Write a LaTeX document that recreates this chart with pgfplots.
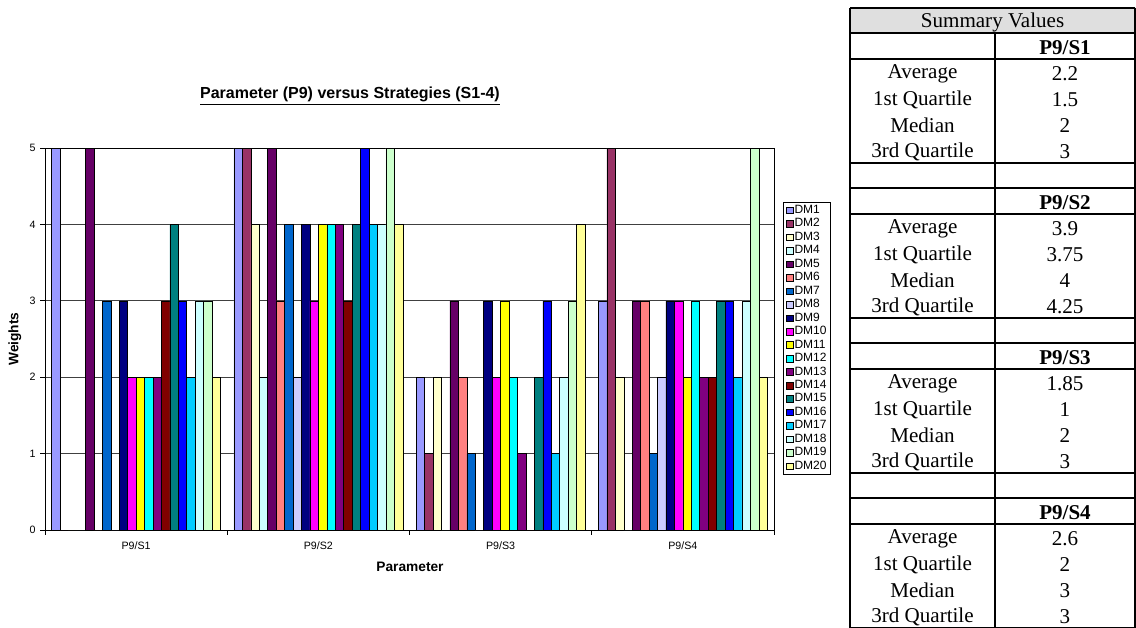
\documentclass[border=0pt]{standalone}
\usepackage{pgfplots}
\pgfplotsset{compat=1.18}
\usepackage{pgfplotstable}
\usepackage{fontspec}
\setmainfont{Liberation Sans}
\newfontfamily\tnr{Liberation Serif}

% Excel default series palette
\definecolor{dm1}{HTML}{9999FF}
\definecolor{dm2}{HTML}{993366}
\definecolor{dm3}{HTML}{FFFFCC}
\definecolor{dm4}{HTML}{CCFFFF}
\definecolor{dm5}{HTML}{660066}
\definecolor{dm6}{HTML}{FF8080}
\definecolor{dm7}{HTML}{0066CC}
\definecolor{dm8}{HTML}{CCCCFF}
\definecolor{dm9}{HTML}{000080}
\definecolor{dm10}{HTML}{FF00FF}
\definecolor{dm11}{HTML}{FFFF00}
\definecolor{dm12}{HTML}{00FFFF}
\definecolor{dm13}{HTML}{800080}
\definecolor{dm14}{HTML}{800000}
\definecolor{dm15}{HTML}{008080}
\definecolor{dm16}{HTML}{0000FF}
\definecolor{dm17}{HTML}{00CCFF}
\definecolor{dm18}{HTML}{CCFFFF}
\definecolor{dm19}{HTML}{CCFFCC}
\definecolor{dm20}{HTML}{FFFF99}

% weights per strategy (rows) and decision maker (columns)
\pgfplotstableread{
x DM1 DM2 DM3 DM4 DM5 DM6 DM7 DM8 DM9 DM10 DM11 DM12 DM13 DM14 DM15 DM16 DM17 DM18 DM19 DM20
1 5 0 0 0 5 0 3 0 3 2 2 2 2 3 4 3 2 3 3 2
2 5 5 4 2 5 3 4 2 4 3 4 4 4 3 4 5 4 4 5 4
3 2 1 2 0 3 2 1 0 3 2 3 2 1 0 2 3 1 2 3 4
4 3 5 2 0 3 3 1 2 3 3 2 3 2 2 3 3 2 3 5 2
}\weights

\begin{document}
\begin{tikzpicture}
\useasboundingbox (0,0) rectangle (852pt,-471pt);
\begin{axis}[
	at={(33.75pt,-397.5pt)}, anchor=south west,
	scale only axis,
	width=546.75pt, height=286.5pt,
	ybar=0pt, bar width=6.33pt,
	legend image code/.code={\draw[#1, draw=black, line width=0.4pt] (0pt,-2.5pt) rectangle (5pt,2.5pt);},
	xmin=0.5, xmax=4.5,
	ymin=0, ymax=5,
	xtick={0.5,1.5,2.5,3.5,4.5}, xticklabels={,,,,},
	extra x ticks={1,2,3,4},
	extra x tick labels={P9/S1,P9/S2,P9/S3,P9/S4},
	extra x tick style={major tick length=0pt, grid=none},
	ytick={0,1,2,3,4,5},
	tick pos=left, tick align=outside,
	major tick length=3.5pt,
	ymajorgrids,
	major grid style={black!75, line width=0.6pt},
	axis line style={black, line width=0.6pt},
	tick style={black, line width=0.6pt},
	/pgf/number format/assume math mode=true,
	tick label style={font=\fontsize{8}{9.6}\selectfont},
	xticklabel style={anchor=center, yshift=-12pt},
	title={\underline{Parameter (P9) versus Strategies (S1-4)}},
	title style={at={(0.4184,1.1152)}, anchor=center, font=\fontsize{12}{14}\selectfont\bfseries},
	xlabel={Parameter},
	xlabel style={at={(0.5007,-0.0969)}, anchor=center, font=\fontsize{10.3}{12}\selectfont\bfseries},
	ylabel={Weights},
	ylabel style={at={(-0.0412,0.5)}, anchor=center, font=\fontsize{10.3}{12}\selectfont\bfseries},
	legend style={at={(1.0123,0.8586)}, anchor=north west, draw=black, line width=0.5pt,
		font=\fontsize{9}{10}\selectfont, cells={anchor=west},
		inner xsep=2pt, inner ysep=1pt, row sep=0pt,
		nodes={inner xsep=1pt, inner ysep=1pt, text height=6.3pt, text depth=1.8pt}},
]
\pgfplotsinvokeforeach{1,...,20}{
	\addplot[fill=dm#1, draw=black, line width=0.4pt] table[x=x, y=DM#1]{\weights};
}
\legend{DM1,DM2,DM3,DM4,DM5,DM6,DM7,DM8,DM9,DM10,DM11,DM12,DM13,DM14,DM15,DM16,DM17,DM18,DM19,DM20}
\end{axis}

% summary table
\def\rh{19.375pt}
\def\ty{-7pt}
\fill[gray!25] (637.5pt,-5.625pt) rectangle (851.25pt,-25pt);
\foreach \k in {0,1,2,6,7,8,12,13,14,18,19,20,24}
	\draw[line width=1.5pt] (637.5pt,{-5.625pt-\k*\rh}) -- (851.25pt,{-5.625pt-\k*\rh});
\draw[line width=1.5pt] (637.5pt,-5.625pt) -- (637.5pt,{-5.625pt-24*\rh});
\draw[line width=1.5pt] (851.25pt,-5.625pt) -- (851.25pt,{-5.625pt-24*\rh});
\draw[line width=1.5pt] (746.25pt,{-5.625pt-\rh}) -- (746.25pt,{-5.625pt-24*\rh});
\node[font=\tnr\fontsize{15.8}{18}\selectfont] at (744.4pt,{\ty-0.5*\rh}) {Summary Values};
\foreach \i/\s in {1/P9\slash S1,7/P9\slash S2,13/P9\slash S3,19/P9\slash S4}
	\node[font=\tnr\fontsize{15.8}{18}\selectfont\bfseries] at (798.75pt,{\ty-(\i+0.5)*\rh}) {\s};
\foreach \i/\a/\b in {2/Average/2.2, 3/1st Quartile/1.5, 4/Median/2, 5/3rd Quartile/3,
	8/Average/3.9, 9/1st Quartile/3.75, 10/Median/4, 11/3rd Quartile/4.25,
	14/Average/1.85, 15/1st Quartile/1, 16/Median/2, 17/3rd Quartile/3,
	20/Average/2.6, 21/1st Quartile/2, 22/Median/3, 23/3rd Quartile/3}{
	\node[font=\tnr\fontsize{15.8}{18}\selectfont] at (691.875pt,{\ty-(\i+0.5)*\rh}) {\a};
	\node[font=\tnr\fontsize{15.8}{18}\selectfont] at (798.75pt,{\ty-(\i+0.5)*\rh}) {\b};
}
\end{tikzpicture}
\end{document}
